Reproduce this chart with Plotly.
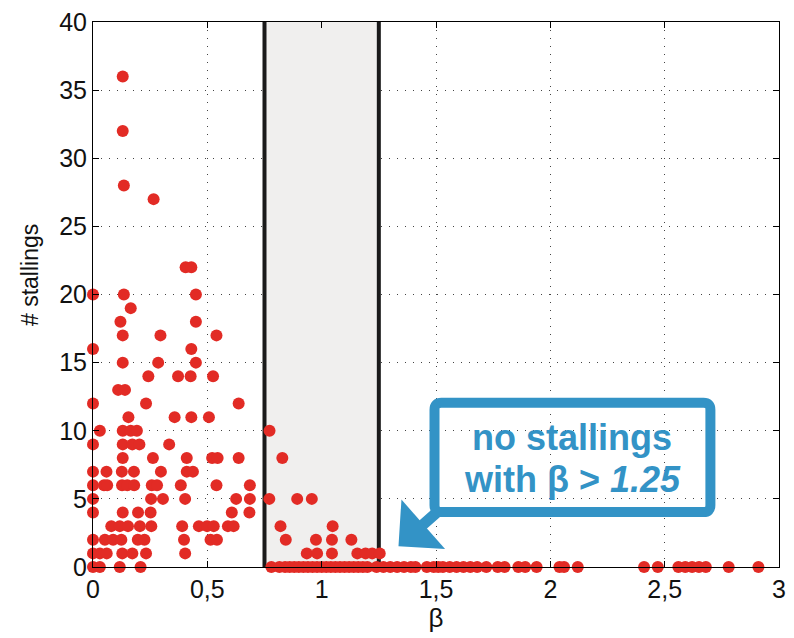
import plotly.graph_objects as go

# Number of stallings observed for each value of beta
beta = [
    0.13, 0.13, 0.135, 0.265,
    0.405, 0.43,
    0.0, 0.135, 0.45,
    0.165,
    0.12, 0.45,
    0.13, 0.295, 0.54,
    0.0, 0.43,
    0.13, 0.285, 0.45,
    0.242, 0.372, 0.427, 0.525,
    0.11, 0.14,
    0.0, 0.232, 0.637,
    0.155, 0.357, 0.43, 0.507,
    0.03, 0.13, 0.165, 0.192, 0.772,
    0.0, 0.13, 0.172, 0.203, 0.333,
    0.13, 0.262, 0.41, 0.521, 0.545, 0.637, 0.828,
    0.0, 0.059, 0.126, 0.179, 0.297, 0.41, 0.437,
    0.0, 0.048, 0.062, 0.127, 0.15, 0.18, 0.257, 0.28, 0.384, 0.54, 0.686,
    0.0, 0.254, 0.306, 0.403, 0.626, 0.686, 0.771, 0.893, 0.957,
    0.0, 0.13, 0.197, 0.252, 0.607, 0.684,
    0.08, 0.117, 0.153, 0.205, 0.255, 0.39, 0.463, 0.499, 0.528, 0.59, 0.615, 0.82, 1.048,
    0.0, 0.052, 0.088, 0.124, 0.196, 0.225, 0.398, 0.514, 0.542, 0.843, 0.975, 1.045, 1.13,
    0.0, 0.03, 0.06, 0.128, 0.172, 0.232, 0.403, 0.935, 0.98, 1.045, 1.156, 1.192, 1.221, 1.254,
    0.0, 0.03, 0.117, 0.208,
    0.78, 0.815, 0.84, 0.86, 0.88, 0.90, 0.92, 0.94, 0.96, 0.98, 1.0, 1.02,
    1.04, 1.06, 1.08, 1.10, 1.12, 1.14, 1.16, 1.18, 1.20, 1.24,
    1.27, 1.30, 1.33, 1.36, 1.39, 1.41, 1.46, 1.49, 1.51, 1.53, 1.56, 1.59,
    1.62, 1.65, 1.68, 1.72, 1.77, 1.80, 1.86, 1.89, 1.94, 2.04, 2.06, 2.12,
    2.41, 2.47, 2.56, 2.59, 2.62, 2.65, 2.68, 2.78, 2.91,
]
stallings = [
    36, 32, 28, 27,
    22, 22,
    20, 20, 20,
    19,
    18, 18,
    17, 17, 17,
    16, 16,
    15, 15, 15,
    14, 14, 14, 14,
    13, 13,
    12, 12, 12,
    11, 11, 11, 11,
    10, 10, 10, 10, 10,
    9, 9, 9, 9, 9,
    8, 8, 8, 8, 8, 8, 8,
    7, 7, 7, 7, 7, 7, 7,
    6, 6, 6, 6, 6, 6, 6, 6, 6, 6, 6,
    5, 5, 5, 5, 5, 5, 5, 5, 5,
    4, 4, 4, 4, 4, 4,
    3, 3, 3, 3, 3, 3, 3, 3, 3, 3, 3, 3, 3,
    2, 2, 2, 2, 2, 2, 2, 2, 2, 2, 2, 2, 2,
    1, 1, 1, 1, 1, 1, 1, 1, 1, 1, 1, 1, 1, 1,
    0, 0, 0, 0,
    0, 0, 0, 0, 0, 0, 0, 0, 0, 0, 0, 0,
    0, 0, 0, 0, 0, 0, 0, 0, 0, 0,
    0, 0, 0, 0, 0, 0, 0, 0, 0, 0, 0, 0,
    0, 0, 0, 0, 0, 0, 0, 0, 0, 0, 0, 0,
    0, 0, 0, 0, 0, 0, 0, 0, 0,
]

x_ticks = [0, 0.5, 1, 1.5, 2, 2.5, 3]
x_tick_labels = ["0", "0,5", "1", "1,5", "2", "2,5", "3"]
y_ticks = [0, 5, 10, 15, 20, 25, 30, 35, 40]

band = (0.75, 1.25)
threshold_label = "1.25"

FONT = "Liberation Sans, Arial, sans-serif"
BLUE = "#3393c6"
RED = "#e22b25"

fig = go.Figure()
fig.add_trace(go.Scatter(
    x=beta, y=stallings, mode="markers",
    marker=dict(color=RED, size=12, line=dict(width=0)),
    cliponaxis=False, showlegend=False,
))

# shaded transition band with its borders
fig.add_shape(type="rect", x0=band[0], x1=band[1], y0=0, y1=40,
              xref="x", yref="y", fillcolor="#f0efee", line_width=0, layer="between")
for xb in band:
    fig.add_shape(type="line", x0=xb, x1=xb, y0=0, y1=40, xref="x", yref="y",
                  line=dict(color="#1a1a1a", width=4), layer="between")

# rounded call-out box (pixel sizes converted to data units)
PX_X = 693 / 3.0
PX_Y = 549 / 40.0
bx0, bx1, by0, by1 = 1.4935, 2.700, 4.03, 12.05
r = 7
rx, ry = r / PX_X, r / PX_Y
box_path = (
    f"M{bx0 + rx},{by1} L{bx1 - rx},{by1} Q{bx1},{by1} {bx1},{by1 - ry} "
    f"L{bx1},{by0 + ry} Q{bx1},{by0} {bx1 - rx},{by0} "
    f"L{bx0 + rx},{by0} Q{bx0},{by0} {bx0},{by0 + ry} "
    f"L{bx0},{by1 - ry} Q{bx0},{by1} {bx0 + rx},{by1} Z"
)
fig.add_shape(type="path", path=box_path, xref="x", yref="y",
              line=dict(color=BLUE, width=10), fillcolor="rgba(255,255,255,0)", layer="above")

fig.add_annotation(x=(bx0 + bx1) / 2, y=9.5, xref="x", yref="y",
                   text="<b>no stallings</b>", showarrow=False,
                   font=dict(family=FONT, size=36, color=BLUE))
fig.add_annotation(x=(bx0 + bx1) / 2, y=6.45, xref="x", yref="y",
                   text=f"<b>with β > <i>{threshold_label}</i></b>", showarrow=False,
                   font=dict(family=FONT, size=36, color=BLUE))

# arrow pointing at the zero row just past the band
fig.add_annotation(x=1.336, y=1.53, xref="x", yref="y",
                   ax=1.528, ay=4.37, axref="x", ayref="y",
                   text="", showarrow=True, arrowhead=1, arrowsize=1.0,
                   arrowwidth=11, arrowcolor=BLUE, standoff=0)

# y-axis label, placed as a rotated annotation
fig.add_annotation(x=-0.091, y=0.535, xref="paper", yref="paper",
                   text="# stallings", textangle=-90, showarrow=False,
                   xanchor="center", yanchor="middle",
                   font=dict(family=FONT, size=23, color="#111111"))

axis_common = dict(
    showline=True, linecolor="black", linewidth=1, mirror="ticks",
    ticks="inside", ticklen=6, tickcolor="black",
    showgrid=True, gridcolor="#444444", gridwidth=1, griddash="1px,7px",
    zeroline=False,
    tickfont=dict(family=FONT, size=25, color="#111111"),
)

fig.update_xaxes(range=[0, 3], tickvals=x_ticks, ticktext=x_tick_labels,
                 title=dict(text="β", font=dict(family=FONT, size=26, color="#111111"), standoff=4),
                 **axis_common)
fig.update_yaxes(range=[0, 40], tickvals=y_ticks, **axis_common)

fig.update_layout(
    width=794, height=638,
    margin=dict(l=93, r=8, t=18, b=71),
    paper_bgcolor="white", plot_bgcolor="white",
)

fig.write_html("out.html")
